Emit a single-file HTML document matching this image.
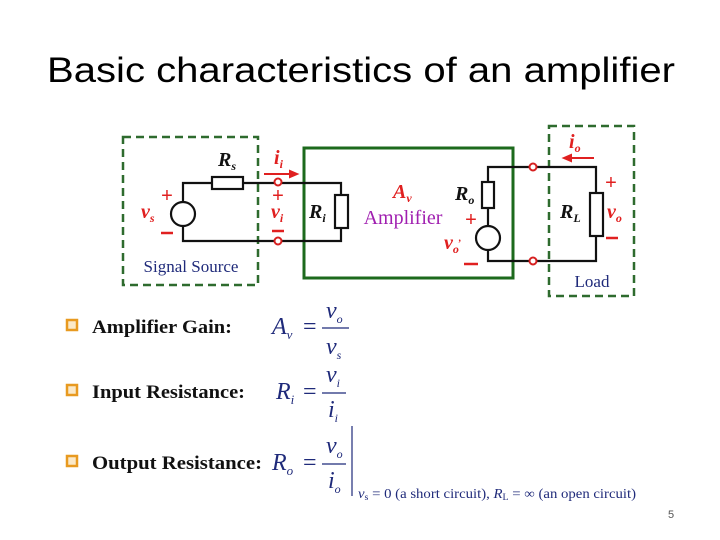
<!DOCTYPE html>
<html><head><style>body{margin:0;background:#fff}svg{display:block}</style></head><body>
<svg width="720" height="540" xmlns="http://www.w3.org/2000/svg" font-family="Liberation Serif, serif">
<rect width="720" height="540" fill="#fff"/>
<text x="361" y="82" text-anchor="middle" font-family="Liberation Sans, sans-serif" font-size="35" textLength="628" lengthAdjust="spacingAndGlyphs">Basic characteristics of an amplifier</text>
<g fill="none" stroke="#2e6b2e" stroke-width="2.5" stroke-dasharray="8,5">
<rect x="123" y="137" width="135" height="148"/>
<rect x="549" y="126" width="85" height="170"/>
</g>
<rect x="304" y="148" width="209" height="130" fill="none" stroke="#1d6a1d" stroke-width="3"/>
<g fill="none" stroke="#111" stroke-width="2.2">
<path d="M183 202V183H212M243 183H341V195M341 228V241H183V226"/>
<rect x="212" y="177" width="31" height="12" fill="#fff"/>
<rect x="335" y="195" width="13" height="33" fill="#fff"/>
<circle cx="183" cy="214" r="12" fill="#fff"/>
<path d="M488 182V167H596V193M596 236V261H488V250M488 226V208"/>
<rect x="482" y="182" width="12" height="26" fill="#fff"/>
<rect x="590" y="193" width="13" height="43" fill="#fff"/>
<circle cx="488" cy="238" r="12" fill="#fff"/>
</g>
<g fill="#fff" stroke="#d62020" stroke-width="2">
<circle cx="278" cy="182" r="3.5"/><circle cx="278" cy="241" r="3.5"/>
<circle cx="533" cy="167" r="3.5"/><circle cx="533" cy="261" r="3.5"/>
</g>
<g stroke="#e02020" stroke-width="2" fill="#e02020">
<line x1="264" y1="174" x2="292" y2="174"/><path d="M297 174l-7-3v6z"/>
<line x1="594" y1="158" x2="570" y2="158"/><path d="M564 158l7-3v6z"/>
</g>
<g font-weight="bold" font-style="italic" font-size="20" fill="#111">
<text x="218" y="166">R<tspan font-size="12" dy="4">s</tspan></text>
<text x="309" y="218">R<tspan font-size="12" dy="4">i</tspan></text>
<text x="455" y="200">R<tspan font-size="12" dy="4">o</tspan></text>
<text x="560" y="218">R<tspan font-size="12" dy="4">L</tspan></text>
</g>
<g font-weight="bold" font-style="italic" font-size="20" fill="#e02020">
<text x="274" y="164">i<tspan font-size="12" dy="4">i</tspan></text>
<text x="271" y="218">v<tspan font-size="12" dy="4">i</tspan></text>
<text x="141" y="218">v<tspan font-size="12" dy="4">s</tspan></text>
<text x="393" y="198">A<tspan font-size="12" dy="4">v</tspan></text>
<text x="444" y="249">v<tspan font-size="12" dy="4">o</tspan><tspan font-size="10" dy="-12">,</tspan></text>
<text x="569" y="148">i<tspan font-size="12" dy="4">o</tspan></text>
<text x="607" y="218">v<tspan font-size="12" dy="4">o</tspan></text>
</g>
<g fill="#e02020" font-size="20" font-family="Liberation Sans, sans-serif" text-anchor="middle">
<text x="167" y="202">+</text><text x="278" y="202">+</text><text x="471" y="226">+</text><text x="611" y="189">+</text>
</g>
<g stroke="#e02020" stroke-width="2.5">
<line x1="161" y1="233" x2="173" y2="233"/><line x1="272" y1="231" x2="284" y2="231"/>
<line x1="464" y1="264" x2="478" y2="264"/><line x1="606" y1="238" x2="618" y2="238"/>
</g>
<text x="403" y="224" text-anchor="middle" font-size="20" fill="#a01fb0">Amplifier</text>
<text x="191" y="272" text-anchor="middle" font-size="17" fill="#1f2a7a">Signal Source</text>
<text x="592" y="287" text-anchor="middle" font-size="17" fill="#1f2a7a">Load</text>
<g fill="#fbe9c8" stroke="#e89a20" stroke-width="2.5">
<rect x="67" y="320" width="10" height="10"/><rect x="67" y="385" width="10" height="10"/><rect x="67" y="456" width="10" height="10"/>
</g>
<g font-weight="bold" font-size="19" fill="#111">
<text x="92" y="333" textLength="140" lengthAdjust="spacingAndGlyphs">Amplifier Gain:</text>
<text x="92" y="398" textLength="153" lengthAdjust="spacingAndGlyphs">Input Resistance:</text>
<text x="92" y="469" textLength="170" lengthAdjust="spacingAndGlyphs">Output Resistance:</text>
</g>
<g font-style="italic" fill="#1f2a7a" font-size="24">
<text x="272" y="334">A<tspan font-size="13" dy="5">v</tspan></text>
<text x="303" y="334" font-style="normal">=</text>
<text x="326" y="318">v<tspan font-size="12" dy="5">o</tspan></text>
<text x="326" y="354">v<tspan font-size="12" dy="5">s</tspan></text>
<text x="276" y="399">R<tspan font-size="13" dy="5">i</tspan></text>
<text x="303" y="399" font-style="normal">=</text>
<text x="326" y="382">v<tspan font-size="12" dy="5">i</tspan></text>
<text x="328" y="417">i<tspan font-size="12" dy="5">i</tspan></text>
<text x="272" y="470">R<tspan font-size="13" dy="5">o</tspan></text>
<text x="303" y="470" font-style="normal">=</text>
<text x="326" y="453">v<tspan font-size="12" dy="5">o</tspan></text>
<text x="328" y="488">i<tspan font-size="12" dy="5">o</tspan></text>
</g>
<g stroke="#1f2a7a" stroke-width="1.2">
<line x1="322" y1="328" x2="349" y2="328"/><line x1="322" y1="393" x2="346" y2="393"/>
<line x1="322" y1="464" x2="346" y2="464"/><line x1="352" y1="426" x2="352" y2="496"/>
</g>
<text x="358" y="498" font-size="13.5" fill="#1f2a7a" textLength="278" lengthAdjust="spacingAndGlyphs"><tspan font-style="italic">v</tspan><tspan font-size="9" dy="2">s</tspan><tspan dy="-2"> = 0 (a short circuit),  </tspan><tspan font-style="italic">R</tspan><tspan font-size="9" dy="2">L</tspan><tspan dy="-2"> = ∞ (an open circuit)</tspan></text>
<text x="668" y="518" font-family="Liberation Sans, sans-serif" font-size="11" fill="#555">5</text>
</svg>
</body></html>
